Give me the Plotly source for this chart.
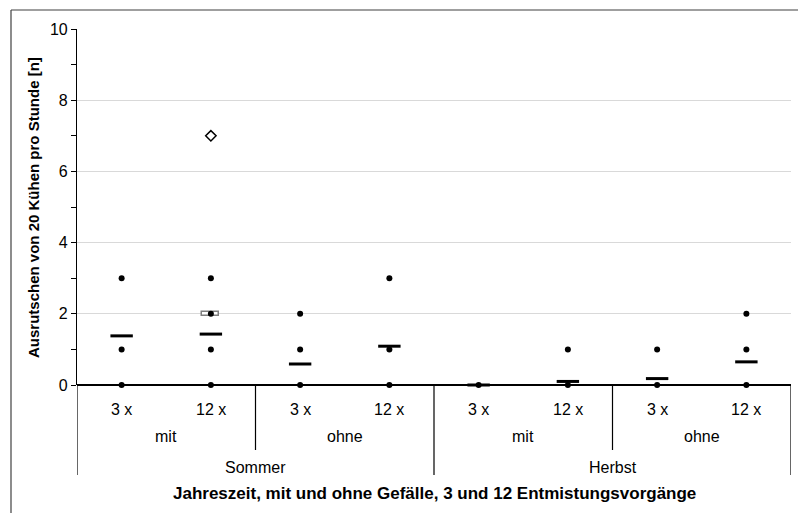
import plotly.graph_objects as go

# ---- data ----
reps = ["3 x", "12 x", "3 x", "12 x", "3 x", "12 x", "3 x", "12 x"]
slope = ["mit", "ohne", "mit", "ohne"]
season = ["Sommer", "Herbst"]

observations = [
    [0, 1, 3],
    [0, 1, 2, 3],
    [0, 1, 2],
    [0, 1, 3],
    [0],
    [0, 1],
    [0, 1],
    [0, 1, 2],
]
means = [1.38, 1.43, 0.59, 1.09, 0.0, 0.1, 0.18, 0.65]
median_cat = [1]
median_val = [2]
outlier_cat = [1]
outlier_val = [7]

# ---- layout geometry (page pixels) ----
OFF = 8  # browser body margin
W, H = 806 - OFF, 513 - OFF
L, R = 77, 791
T, B = 29, 385
ph = B - T
pw = R - L


def py(p):
    return (B - p) / ph


def pxp(p):
    return (p - L) / pw


xpos = [i + 0.5 for i in range(len(reps))]

fig = go.Figure()

# median box (open rectangle)
fig.add_trace(go.Bar(
    x=[xpos[i] for i in median_cat],
    y=[0.12 for _ in median_val],
    base=[v - 0.06 for v in median_val],
    width=0.19,
    marker=dict(color="white", line=dict(color="#7f7f7f", width=1.5)),
    showlegend=False, hoverinfo="skip",
))

# observation dots
dx, dy = [], []
for i, vals in enumerate(observations):
    for v in vals:
        dx.append(xpos[i])
        dy.append(v)
fig.add_trace(go.Scatter(
    x=dx, y=dy, mode="markers",
    marker=dict(symbol="circle", size=6, color="black"),
    showlegend=False, cliponaxis=False,
))

# means
fig.add_trace(go.Scatter(
    x=xpos, y=means, mode="markers",
    marker=dict(symbol="line-ew", size=16, line=dict(color="black", width=3)),
    showlegend=False, cliponaxis=False,
))

# outlier
fig.add_trace(go.Scatter(
    x=[xpos[i] for i in outlier_cat], y=outlier_val, mode="markers",
    marker=dict(symbol="diamond-open", size=8, color="black", line=dict(width=1.5)),
    showlegend=False,
))

font = "Liberation Sans, Arial, sans-serif"
shapes = []
annotations = []


def label(x, y, text, size, xref="x"):
    annotations.append(dict(x=x, y=y, xref=xref, yref="paper", text=text,
                            xanchor="center", yanchor="middle", showarrow=False,
                            font=dict(size=size, color="black", family=font)))


for i, t in enumerate(reps):
    label(xpos[i], py(409), t, 16)
for j, t in enumerate(slope):
    label(2 * j + 1, py(437), t, 16)
for k, t in enumerate(season):
    label(4 * k + 2, py(467), t, 16)

label(0.5, py(494), "<b>Jahreszeit, mit und ohne Gefälle, 3 und 12 Entmistungsvorgänge</b>", 17,
      xref="paper")

annotations.append(dict(x=pxp(33), y=py(208), xref="paper", yref="paper",
                        xanchor="center", yanchor="middle",
                        text="<b>Ausrutschen von 20 Kühen pro Stunde [n]</b>", textangle=-90,
                        showarrow=False, font=dict(size=15, color="black", family=font)))

# divider lines
for xv in [2, 6]:
    shapes.append(dict(type="line", xref="x", yref="paper", x0=xv, x1=xv, y0=0, y1=py(450),
                       line=dict(color="black", width=1.2)))
for xv in [0, 4, 8]:
    shapes.append(dict(type="line", xref="x", yref="paper", x0=xv, x1=xv, y0=0, y1=py(475),
                       line=dict(color="black", width=1.2)))

# outer chart border (left and top sides visible)
shapes.append(dict(type="line", xref="paper", yref="paper",
                   x0=pxp(11), x1=pxp(11), y0=py(540), y1=py(10),
                   line=dict(color="#404040", width=1.2), layer="below"))
shapes.append(dict(type="line", xref="paper", yref="paper",
                   x0=pxp(11), x1=pxp(830), y0=py(10), y1=py(10),
                   line=dict(color="#404040", width=1.2), layer="below"))

fig.update_layout(
    width=W, height=H,
    margin=dict(l=L - OFF, r=W - (R - OFF), t=T - OFF, b=H - (B - OFF), autoexpand=False),
    paper_bgcolor="white", plot_bgcolor="white",
    font=dict(family=font, size=14, color="black"),
    showlegend=False,
    shapes=shapes, annotations=annotations,
    xaxis=dict(range=[0, 8], showgrid=False, zeroline=False, showticklabels=False,
               showline=False, ticks=""),
    yaxis=dict(range=[0, 10], dtick=2, tick0=0, showgrid=True, gridcolor="#d9d9d9", gridwidth=1,
               zeroline=True, zerolinecolor="black", zerolinewidth=1.5,
               showline=True, linecolor="black", linewidth=1.2,
               ticks="outside", ticklen=5, tickcolor="black",
               minor=dict(dtick=1, ticks="outside", ticklen=5, tickcolor="black", showgrid=False),
               tickfont=dict(size=16, color="black", family=font)),
    bargap=0,
)

fig.write_html("out.html")
